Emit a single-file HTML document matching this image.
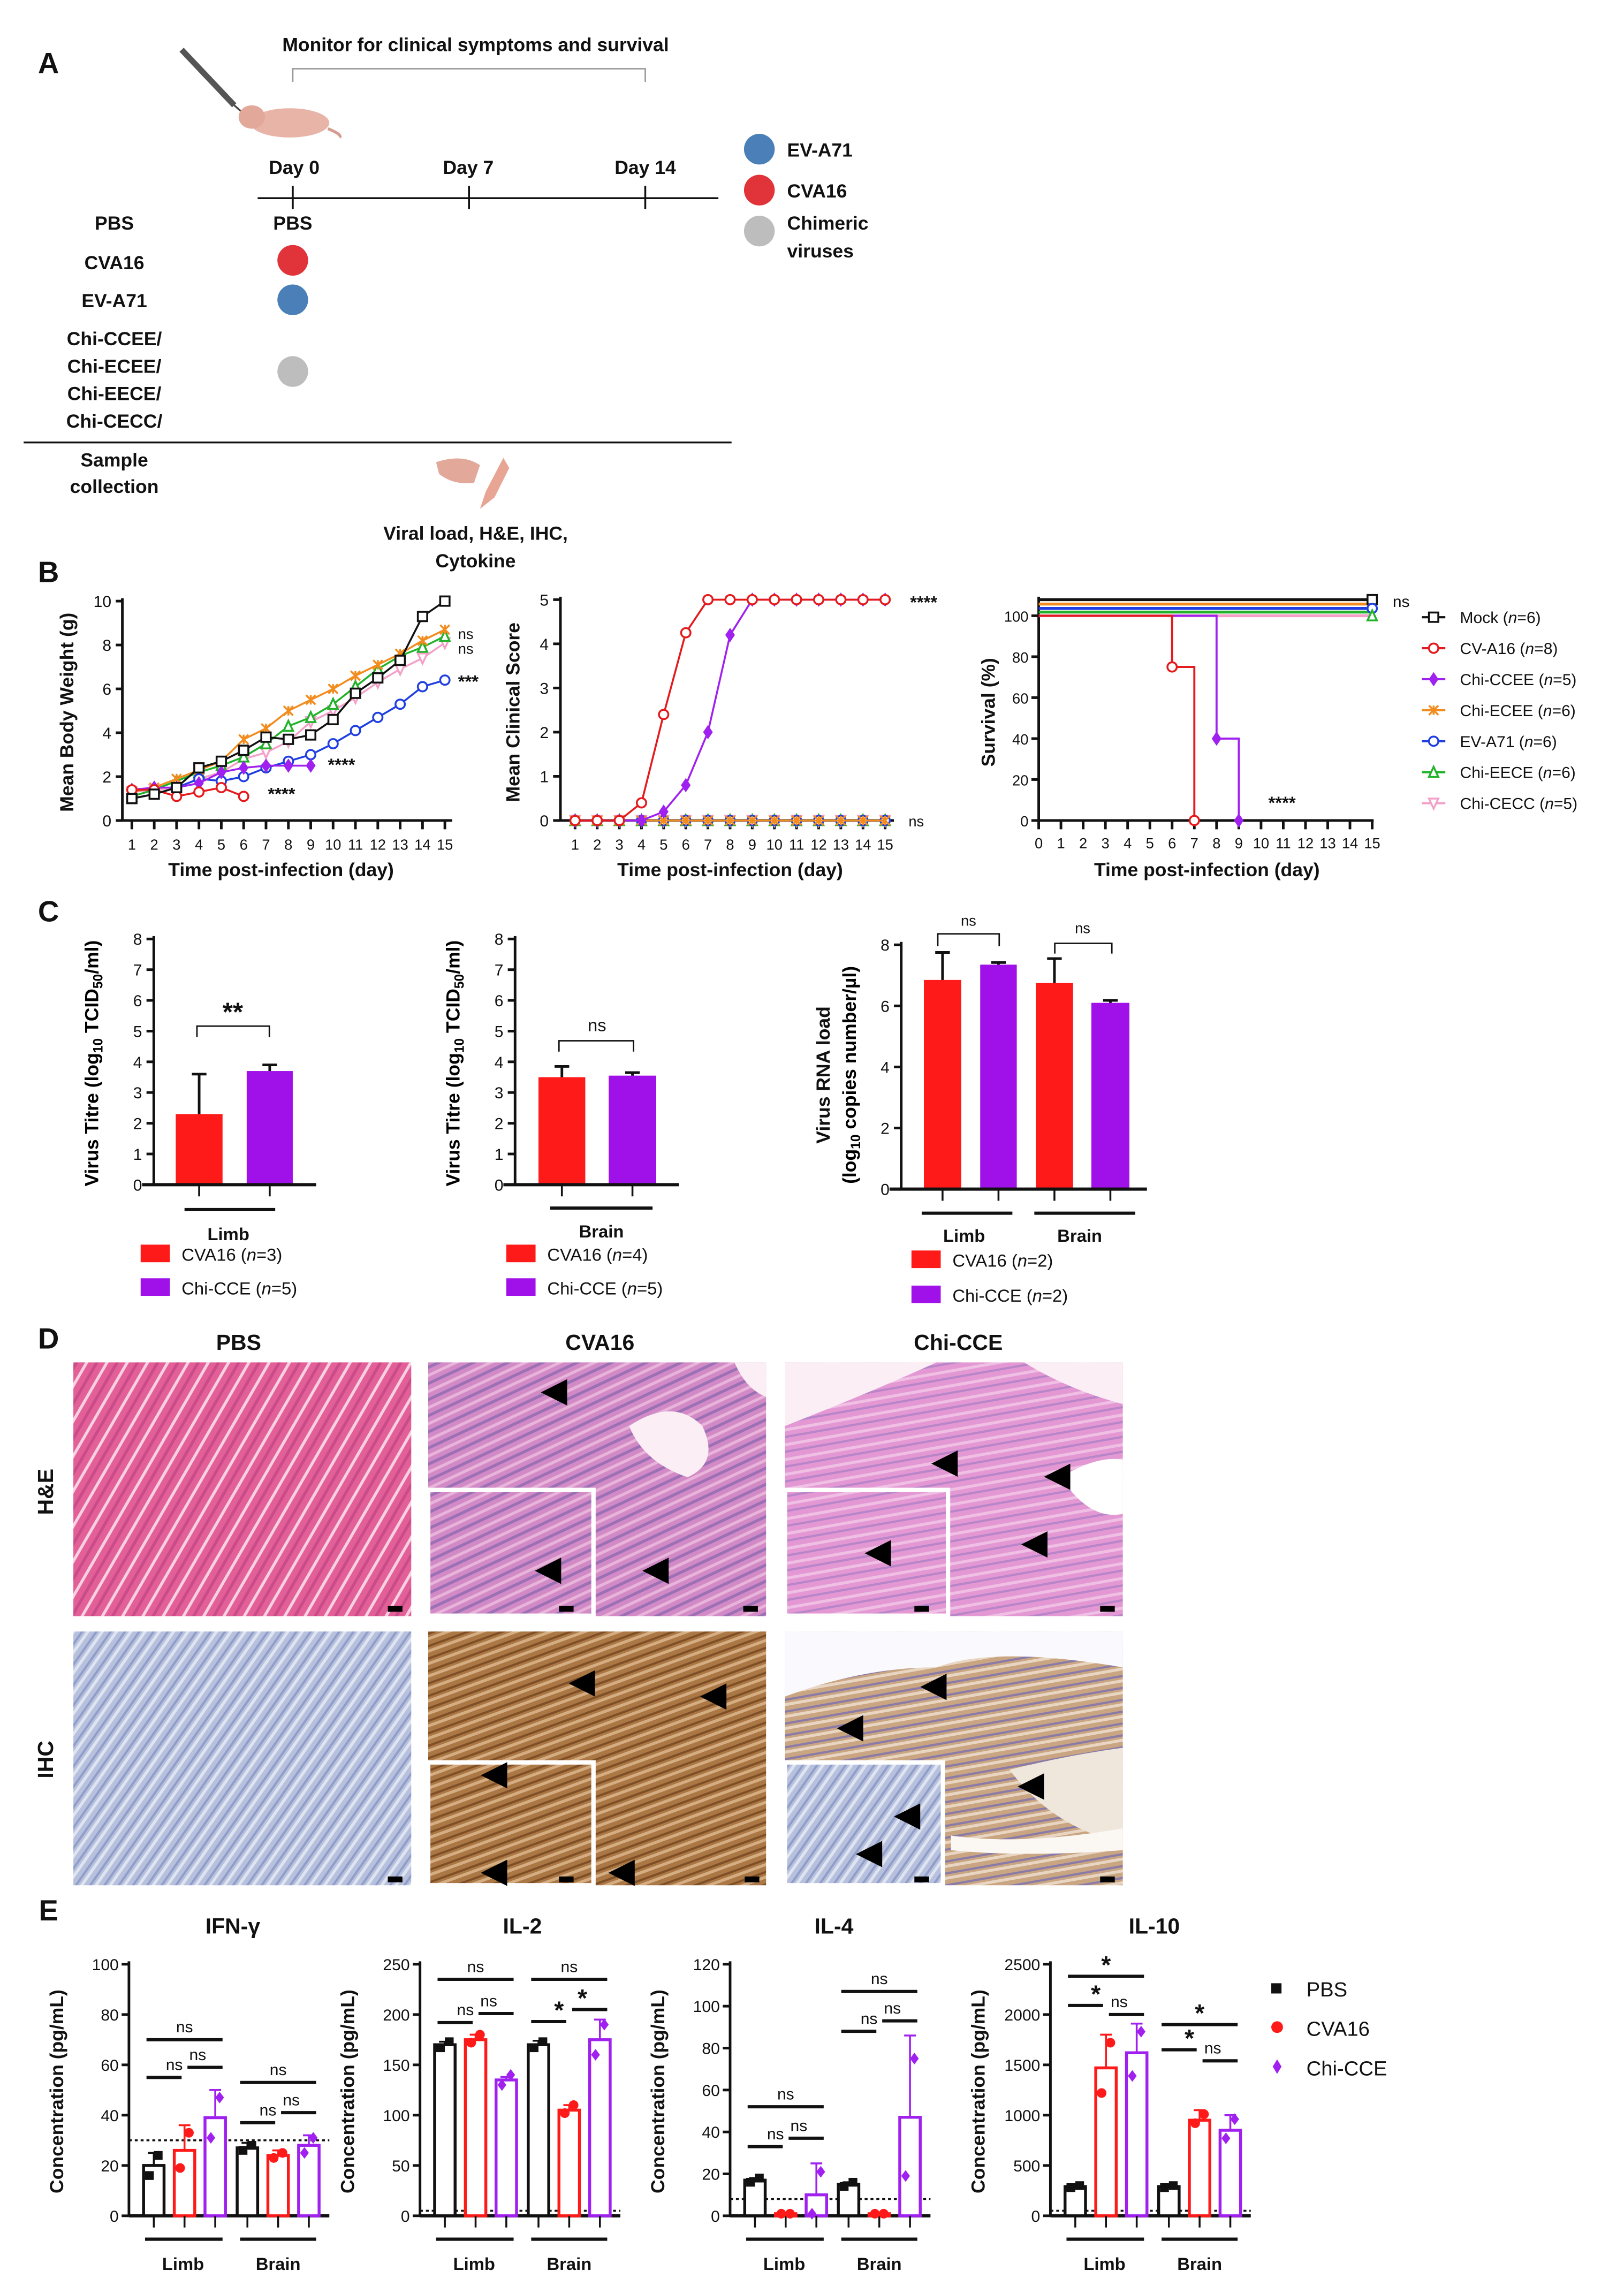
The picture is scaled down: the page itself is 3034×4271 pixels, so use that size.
<!DOCTYPE html>
<html><head><meta charset="utf-8"><style>
html,body{margin:0;padding:0;background:#fff;}
svg{display:block;font-family:"Liberation Sans",Arial,sans-serif;}
</style></head><body>
<svg id="fig" width="3034" height="4271" viewBox="0 0 1110 1563" xmlns="http://www.w3.org/2000/svg">
<defs>
<pattern id="he" width="30" height="12" patternUnits="userSpaceOnUse" patternTransform="rotate(-60)"><rect width="30" height="12" fill="#e35f98"/><rect y="0" width="30" height="2" fill="#f7d0e2"/><rect y="6" width="30" height="2" fill="#c94c88"/></pattern>
<pattern id="he2" width="30" height="10" patternUnits="userSpaceOnUse" patternTransform="rotate(-25)"><rect width="30" height="10" fill="#d28ac6"/><rect y="0" width="30" height="2" fill="#9c70b4"/><rect y="5" width="30" height="2" fill="#e8b4da"/></pattern>
<pattern id="he3" width="30" height="10" patternUnits="userSpaceOnUse" patternTransform="rotate(-10)"><rect width="30" height="10" fill="#e398d4"/><rect y="0" width="30" height="1.5" fill="#b785c8"/><rect y="5" width="30" height="2" fill="#f0c0e4"/></pattern>
<pattern id="ihc0" width="30" height="8" patternUnits="userSpaceOnUse" patternTransform="rotate(-55)"><rect width="30" height="8" fill="#b7c1de"/><rect y="0" width="30" height="2" fill="#dfe4f1"/><rect y="5" width="30" height="1.5" fill="#8f9dc8"/></pattern>
<pattern id="ihc1" width="30" height="8" patternUnits="userSpaceOnUse" patternTransform="rotate(-20)"><rect width="30" height="8" fill="#ab7744"/><rect y="0" width="30" height="2" fill="#d4ad82"/><rect y="5" width="30" height="1.5" fill="#7e4f26"/></pattern>
<pattern id="ihc2" width="30" height="8" patternUnits="userSpaceOnUse" patternTransform="rotate(-10)"><rect width="30" height="8" fill="#c9a582"/><rect y="0" width="30" height="2" fill="#e8d6c3"/><rect y="5" width="30" height="1.5" fill="#8a7aa8"/></pattern>
</defs>
<g id="root"></g>
</svg>
<script>
const NS="http://www.w3.org/2000/svg";
const root=document.getElementById('root');

// ---------- DATA ----------
const days=[1,2,3,4,5,6,7,8,9,10,11,12,13,14,15];
const bwMock=[1.0,1.2,1.5,2.4,2.7,3.2,3.8,3.7,3.9,4.6,5.8,6.5,7.3,9.3,10.0];
const bwCVA16=[1.4,1.4,1.1,1.3,1.5,1.1];
const bwCCEE=[1.4,1.5,1.5,1.7,2.2,2.4,2.5,2.5,2.5];
const bwECEE=[1.3,1.5,1.9,2.3,2.7,3.7,4.2,5.0,5.5,6.0,6.6,7.1,7.6,8.2,8.7];
const bwEVA71=[1.0,1.2,1.5,1.9,1.8,2.0,2.4,2.7,3.0,3.5,4.1,4.7,5.3,6.1,6.4];
const bwEECE=[1.1,1.4,1.8,2.2,2.5,2.9,3.5,4.3,4.7,5.3,6.1,6.9,7.5,7.9,8.4];
const bwCECC=[1.3,1.4,1.5,1.9,2.2,2.8,3.1,3.6,4.5,5.0,5.6,6.3,6.9,7.4,8.1];
const csCVA16=[0,0,0,0.4,2.4,4.25,5,5,5,5,5,5,5,5,5];
const csCCEE=[0,0,0,0,0.2,0.8,2,4.2,5,5,5,5,5,5,5];
const csOther=[0,0,0,0,0,0,0,0,0,0,0,0,0,0,0];
const survDaysCVA16=[0,6,6,7,7];
const survCVA16=[100,100,75,75,0];
const survDaysCCEE=[0,8,8,9,9];
const survCCEE=[100,100,40,40,0];
const legendNames=["Mock","CV-A16","Chi-CCEE","Chi-ECEE","EV-A71","Chi-EECE","Chi-CECC"];
const legendN=["6","8","5","6","6","6","5"];
const titreLimb=[2.3,3.7];
const titreLimbErr=[3.6,3.9];
const titreBrain=[3.5,3.55];
const titreBrainErr=[3.85,3.65];
const rnaVals=[6.85,7.35,6.75,6.1];
const rnaErr=[7.75,7.42,7.55,6.18];
const cytNames=["IFN-γ","IL-2","IL-4","IL-10"];
const cytMax=[100,250,120,2500];
const cytStep=[20,50,20,500];
const cytLOD=[30,5,8,50];
const cytMeans=[[20,26,39,27,24,28],[170,175,135,170,105,175],[17,1,10,15,1,47],[290,1470,1620,290,950,850]];
const cytErr=[[25,36,50,29,26,32],[173,180,138,174,110,195],[18,1,25,16,1,86],[300,1800,1910,310,1050,1000]];
const cytPts=[[[16,24],[19,33],[31,47],[26,28],[23,25],[25,31]],[[167,173],[172,180],[130,140],[167,173],[102,110],[160,190]],[[16,18],[1,1],[1,21],[14,16],[1,1],[19,75]],[[280,300],[1220,1720],[1390,1830],[280,300],[920,1010],[770,960]]];
const brIFN=[[0,2,70,'ns'],[0,1,55,'ns'],[1,2,59,'ns'],[3,5,53,'ns'],[3,4,37,'ns'],[4,5,41,'ns']];
const brIL2=[[0,2,235,'ns'],[0,1,192,'ns'],[1,2,201,'ns'],[3,5,235,'ns'],[3,4,193,'*'],[4,5,205,'*']];
const brIL4=[[0,2,52,'ns'],[0,1,33,'ns'],[1,2,37,'ns'],[3,5,107,'ns'],[3,4,88,'ns'],[4,5,93,'ns']];
const brIL10=[[0,2,2380,'*'],[0,1,2090,'*'],[1,2,2000,'ns'],[3,5,1900,'*'],[3,4,1650,'*'],[4,5,1540,'ns']];
const cytBrackets=[brIFN,brIL2,brIL4,brIL10];

// ---------- helpers ----------
function mk(tag,attrs,name,parent){
  const el=document.createElementNS(NS,tag);
  for(const k in attrs) el.setAttribute(k,attrs[k]);
  
  
  (parent||root).appendChild(el);
  return el;
}
function T(x,y,s,size,name,o){
  o=o||{};
  const a={x:x,y:y,'font-size':size,'font-weight':o.w||'bold','text-anchor':o.a||'middle',fill:o.fill||'#111'};
  if(o.rot) a.transform='rotate('+o.rot+' '+x+' '+y+')';
  const el=mk('text',a,name);
  el.textContent=s;
  return el;
}
function L(x1,y1,x2,y2,name,o){
  o=o||{};
  return mk('line',{x1:x1,y1:y1,x2:x2,y2:y2,stroke:o.c||'#111','stroke-width':o.w||1.8,'stroke-dasharray':o.d||'none'},name);
}
function marker(type,x,y,c,name){
  const r=3.2;
  if(type==='sq') mk('rect',{x:x-r,y:y-r,width:2*r,height:2*r,fill:'#fff',stroke:c,'stroke-width':1.3},name);
  else if(type==='ci') mk('circle',{cx:x,cy:y,r:r,fill:'#fff',stroke:c,'stroke-width':1.3},name);
  else if(type==='di') mk('polygon',{points:[x,y-r-0.8,x+r-0.5,y,x,y+r+0.8,x-r+0.5,y].join(','),fill:c,stroke:c,'stroke-width':1},name);
  else if(type==='x'){mk('path',{d:`M${x-r},${y-r}L${x+r},${y+r}M${x+r},${y-r}L${x-r},${y+r}M${x},${y-r}L${x},${y+r}`,stroke:c,'stroke-width':1.3},name);}
  else if(type==='tu') mk('polygon',{points:[x,y-r-0.5,x+r,y+r,x-r,y+r].join(','),fill:'#fff',stroke:c,'stroke-width':1.3},name);
  else if(type==='td') mk('polygon',{points:[x,y+r+0.5,x+r,y-r,x-r,y-r].join(','),fill:'#fff',stroke:c,'stroke-width':1.3},name);
}
function axisFns(x0,x1,xmin,xmax,y0,y1,ymin,ymax){
  return {sx:v=>x0+(v-xmin)/(xmax-xmin)*(x1-x0), sy:v=>y0-(v-ymin)/(ymax-ymin)*(y0-y1)};
}
function series(ax,xs,ys,c,mt,name){
  const pts=ys.map((v,i)=>ax.sx(xs[i])+','+ax.sy(v)).join(' ');
  mk('polyline',{points:pts,fill:'none',stroke:c,'stroke-width':1.3},name+'-line');
  ys.forEach((v,i)=>marker(mt,ax.sx(xs[i]),ax.sy(v),c,name+'-point'));
}
const COL={Mock:'#111',CVA16:'#e41a1c',CCEE:'#a020f0',ECEE:'#f28c1e',EVA71:'#1f3fe0',EECE:'#22b22a',CECC:'#f4a0c8'};

// ---------- PANEL A ----------
T(33,50,'A',20,'panel-label-a');
T(325,35,'Monitor for clinical symptoms and survival',13,'monitor-title');
mk('path',{d:'M200,56 L200,47 L441,47 L441,56',fill:'none',stroke:'#999','stroke-width':1},'monitor-bracket');
mk('path',{d:'M124,34 L160,72',stroke:'#555','stroke-width':4,fill:'none'},'syringe-icon');
mk('path',{d:'M160,72 L169,80',stroke:'#444','stroke-width':1.2},'syringe-needle');
mk('ellipse',{cx:198,cy:84,rx:27,ry:10,fill:'#e8b4a8'},'mouse-icon');
mk('ellipse',{cx:172,cy:80,rx:9,ry:8,fill:'#e2a89a'},'mouse-head');
mk('path',{d:'M224,88 Q234,92 232,94',stroke:'#d79c90','stroke-width':2,fill:'none'},'mouse-tail');
T(201,119,'Day 0',13,'day-0-label');
T(320,119,'Day 7',13,'day-7-label');
T(441,119,'Day 14',13,'day-14-label');
L(176,135.5,491,135.5,'timeline-axis',{w:1.3});
[200,320.5,441].forEach(x=>L(x,127,x,143,'timeline-tick',{w:1.3}));
T(78,157,'PBS',13,'group-pbs');
T(78,184,'CVA16',13,'group-cva16');
T(78,210,'EV-A71',13,'group-eva71');
['Chi-CCEE/','Chi-ECEE/','Chi-EECE/','Chi-CECC/'].forEach((s,i)=>T(78,236+i*18.8,s,13,'group-chimeric'));
T(200,157,'PBS',13,'pbs-injection');
mk('circle',{cx:200,cy:178,r:10.5,fill:'#e0333a'},'cva16-dot');
mk('circle',{cx:200,cy:205,r:10.5,fill:'#4a7fb8'},'eva71-dot');
mk('circle',{cx:200,cy:254,r:10.5,fill:'#bdbdbd'},'chimeric-dot');
mk('circle',{cx:519,cy:102,r:10.5,fill:'#4a7fb8'},'legend-eva71-dot');
T(538,107,'EV-A71',13,'legend-eva71',{a:'start'});
mk('circle',{cx:519,cy:130,r:10.5,fill:'#e0333a'},'legend-cva16-dot');
T(538,135,'CVA16',13,'legend-cva16',{a:'start'});
mk('circle',{cx:519,cy:158,r:10.5,fill:'#bdbdbd'},'legend-chimeric-dot');
T(538,157,'Chimeric',13,'legend-chimeric',{a:'start'});
T(538,176,'viruses',13,'legend-chimeric-2',{a:'start'});
L(16,302.5,500,302.5,'sample-divider',{w:1.3});
T(78,319,'Sample',13,'sample-collection-1');
T(78,337,'collection',13,'sample-collection-2');
mk('path',{d:'M298,316 Q316,310 328,318 L324,330 Q310,332 300,324 Z',fill:'#e2a89a'},'tissue-brain-icon');
mk('path',{d:'M344,313 L348,320 L338,340 L328,348 L332,336 Z',fill:'#e8a594'},'tissue-limb-icon');
T(325,369,'Viral load, H&E, IHC,',13,'readouts-1');
T(325,388,'Cytokine',13,'readouts-2');

// ---------- PANEL B ----------
T(33,398,'B',20,'panel-label-b');
(function(){
  const ax=axisFns(90,304,1,15,561,411,0,10);
  L(83.5,409,83.5,561,'bw-y-axis');L(80,561,309,561,'bw-x-axis');
  [0,2,4,6,8,10].forEach(v=>{L(79,ax.sy(v),83.5,ax.sy(v),'bw-y-tick');T(76,ax.sy(v)+4,String(v),11,'bw-y-label',{a:'end',w:'normal'});});
  days.forEach(d=>{L(ax.sx(d),561,ax.sx(d),567,'bw-x-tick');T(ax.sx(d),581,String(d),10,'bw-x-label',{w:'normal'});});
  T(192,599,'Time post-infection (day)',13,'bw-x-title');
  T(50,487,'Mean Body Weight (g)',13,'bw-y-title',{rot:-90});
  series(ax,days,bwCECC,COL.CECC,'td','bw-chi-cecc');
  series(ax,days,bwEECE,COL.EECE,'tu','bw-chi-eece');
  series(ax,days,bwECEE,COL.ECEE,'x','bw-chi-ecee');
  series(ax,days,bwEVA71,COL.EVA71,'ci','bw-eva71');
  series(ax,days,bwCCEE,COL.CCEE,'di','bw-chi-ccee');
  series(ax,days,bwCVA16,COL.CVA16,'ci','bw-cva16');
  series(ax,days,bwMock,COL.Mock,'sq','bw-mock');
  T(313,437,'ns',10,'bw-ns-1',{a:'start',w:'normal'});T(313,447,'ns',10,'bw-ns-2',{a:'start',w:'normal'});
  T(313,470,'***',12,'bw-sig-eva71',{a:'start'});
  T(224,527,'****',12,'bw-sig-ccee',{a:'start'});
  T(183,547,'****',12,'bw-sig-cva16',{a:'start'});
})();
(function(){
  const ax=axisFns(393,605,1,15,561,410,0,5);
  L(383,408,383,561,'cs-y-axis');L(380,561,611,561,'cs-x-axis');
  [0,1,2,3,4,5].forEach(v=>{L(378,ax.sy(v),383,ax.sy(v),'cs-y-tick');T(375,ax.sy(v)+4,String(v),11,'cs-y-label',{a:'end',w:'normal'});});
  days.forEach(d=>{L(ax.sx(d),561,ax.sx(d),567,'cs-x-tick');T(ax.sx(d),581,String(d),10,'cs-x-label',{w:'normal'});});
  T(499,599,'Time post-infection (day)',13,'cs-x-title');
  T(355,487,'Mean Clinical Score',13,'cs-y-title',{rot:-90});
  series(ax,days,csOther,COL.CECC,'td','cs-chi-cecc');
  series(ax,days,csOther,COL.EECE,'tu','cs-chi-eece');
  series(ax,days,csOther,COL.EVA71,'ci','cs-eva71');
  series(ax,days,csOther,COL.ECEE,'x','cs-chi-ecee');
  series(ax,days,csCCEE,COL.CCEE,'di','cs-chi-ccee');
  series(ax,days,csCVA16,COL.CVA16,'ci','cs-cva16');
  T(622,416,'****',12,'cs-sig',{a:'start'});
  T(621,565,'ns',10,'cs-ns',{a:'start',w:'normal'});
})();
(function(){
  const ax=axisFns(710,938,0,15,561,421,0,100);
  L(710,408,710,561,'surv-y-axis');L(710,561,939,561,'surv-x-axis');
  [0,20,40,60,80,100].forEach(v=>{L(705,ax.sy(v),710,ax.sy(v),'surv-y-tick');T(703,ax.sy(v)+4,String(v),10,'surv-y-label',{a:'end',w:'normal'});});
  for(let d=0;d<=15;d++){L(ax.sx(d),561,ax.sx(d),567,'surv-x-tick');T(ax.sx(d),580,String(d),10,'surv-x-label',{w:'normal'});}
  T(825,599,'Time post-infection (day)',13,'surv-x-title');
  T(680,487,'Survival (%)',13,'surv-y-title',{rot:-90});
  const tops=[['Mock',COL.Mock,-11],['ECEE',COL.ECEE,-8],['EVA71',COL.EVA71,-5],['EECE',COL.EECE,-2.5],['CECC',COL.CECC,0]];
  tops.forEach(t=>{mk('line',{x1:710,y1:ax.sy(100)+t[2],x2:ax.sx(15),y2:ax.sy(100)+t[2],stroke:t[1],'stroke-width':2},'surv-'+t[0]+'-line');});
  marker('sq',ax.sx(15),ax.sy(100)-11,COL.Mock,'surv-mock-end');
  marker('ci',ax.sx(15),ax.sy(100)-5,COL.EVA71,'surv-eva71-end');
  marker('tu',ax.sx(15),ax.sy(100),COL.EECE,'surv-eece-end');
  const st=(xs,ys,c,m,n)=>{mk('polyline',{points:ys.map((v,i)=>ax.sx(xs[i])+','+ax.sy(v)).join(' '),fill:'none',stroke:c,'stroke-width':1.4},n+'-line');
    marker(m,ax.sx(xs[2]),ax.sy(ys[2]),c,n+'-point');marker(m,ax.sx(xs[4]),ax.sy(ys[4]),c,n+'-point');};
  st(survDaysCCEE,survCCEE,COL.CCEE,'di','surv-chi-ccee');
  st(survDaysCVA16,survCVA16,COL.CVA16,'ci','surv-cva16');
  T(952,415,'ns',11,'surv-ns',{a:'start',w:'normal'});
  T(867,553,'****',12,'surv-sig',{a:'start'});
  const lc=[COL.Mock,COL.CVA16,COL.CCEE,COL.ECEE,COL.EVA71,COL.EECE,COL.CECC];
  const lm=['sq','ci','di','x','ci','tu','td'];
  legendNames.forEach((n,i)=>{const y=422+i*21.2;
    mk('line',{x1:972,y1:y,x2:988,y2:y,stroke:lc[i],'stroke-width':1.5},'surv-legend-line');
    marker(lm[i],980,y,lc[i],'surv-legend-marker');
    const t=mk('text',{x:998,y:y+4,'font-size':11,fill:'#111'},'surv-legend-entry');
    t.innerHTML=n+' (<tspan font-style="italic">n</tspan>='+legendN[i]+')';
  });
})();

// ---------- PANEL C ----------
T(33,630,'C',20,'panel-label-c');
function errBar(x,yTop,yBase,name){L(x,yTop,x,yBase,name);L(x-5,yTop,x+5,yTop,name+'-cap');}
function titrePlot(axX,xEnd,xs,vals,errs,stepv,y0,y1,ptag){
  const ax=axisFns(0,1,0,1,y0,y1,0,8);
  L(axX,y1-2,axX,y0,ptag+'-y-axis');
  for(let v=0;v<=8;v+=stepv){L(axX-5,ax.sy(v),axX,ax.sy(v),ptag+'-y-tick');T(axX-8,ax.sy(v)+4,String(v),11,ptag+'-y-label',{a:'end',w:'normal'});}
  const cols=['#ff1a1a','#a010e8','#ff1a1a','#a010e8'];
  vals.forEach((v,i)=>{mk('rect',{x:xs[i][0],y:ax.sy(v),width:xs[i][1]-xs[i][0],height:y0-ax.sy(v),fill:cols[i]},ptag+'-bar');
    const cx=(xs[i][0]+xs[i][1])/2;
    errBar(cx,ax.sy(errs[i]),ax.sy(v),ptag+'-error-bar');
    L(cx,y0,cx,y0+8,ptag+'-x-tick',{w:1.3});});
  L(axX-8,y0,xEnd,y0,ptag+'-x-axis',{w:2.2});
  return ax;
}
function ytTitre(x,y,name){
  const yt=mk('text',{x:x,y:y,'font-size':13,'font-weight':'bold','text-anchor':'middle',transform:'rotate(-90 '+x+' '+y+')'},name);
  yt.innerHTML='Virus Titre (log<tspan font-size="9" dy="3">10</tspan><tspan dy="-3"> TCID</tspan><tspan font-size="9" dy="3">50</tspan><tspan dy="-3">/ml)</tspan>';
}
function legRow(x,y,col,label,n,name){
  mk('rect',{x:x,y:y-10,width:20,height:12,fill:col},name+'-swatch');
  const t=mk('text',{x:x+28,y:y+1,'font-size':12,fill:'#111'},name);t.innerHTML=label+' (<tspan font-style="italic">n</tspan>='+n+')';
}
(function(){
  titrePlot(105,216,[[120,152],[168.5,200]],titreLimb,titreLimbErr,1,810,642,'titre-limb');
  mk('path',{d:'M134.5,709 L134.5,701.6 L184,701.6 L184,709',fill:'none',stroke:'#111','stroke-width':1},'titre-limb-bracket');
  T(159,698,'**',18,'titre-limb-sig');
  L(126,827,188,827,'titre-limb-group-line',{w:2.2});T(156,848,'Limb',12,'titre-limb-group');
  ytTitre(67,727,'titre-limb-y-title');
  legRow(96,861,'#ff1a1a','CVA16','3','titre-limb-legend-cva16');
  legRow(96,884,'#a010e8','Chi-CCE','5','titre-limb-legend-chicce');
})();
(function(){
  titrePlot(352,464,[[368,400],[416,448.5]],titreBrain,titreBrainErr,1,810,642,'titre-brain');
  mk('path',{d:'M382,719 L382,711.6 L433,711.6 L433,719',fill:'none',stroke:'#111','stroke-width':1},'titre-brain-bracket');
  T(408,705,'ns',12,'titre-brain-ns',{w:'normal'});
  L(376,826,446,826,'titre-brain-group-line',{w:2.2});T(411,846,'Brain',12,'titre-brain-group');
  ytTitre(314,727,'titre-brain-y-title');
  legRow(346,861,'#ff1a1a','CVA16','4','titre-brain-legend-cva16');
  legRow(346,884,'#a010e8','Chi-CCE','5','titre-brain-legend-chicce');
})();
(function(){
  titrePlot(616,784,[[631.5,657],[670,695],[708,733.5],[746,772]],rnaVals,rnaErr,2,813,646,'rna');
  mk('path',{d:'M641,647 L641,638.5 L683,638.5 L683,647',fill:'none',stroke:'#111','stroke-width':1},'rna-limb-bracket');
  T(662,633,'ns',10,'rna-limb-ns',{w:'normal'});
  mk('path',{d:'M721,652 L721,645 L760,645 L760,652',fill:'none',stroke:'#111','stroke-width':1},'rna-brain-bracket');
  T(740,638,'ns',10,'rna-brain-ns',{w:'normal'});
  L(630,829.5,692,829.5,'rna-limb-line',{w:2.2});T(659,849,'Limb',12,'rna-limb-group');
  L(707,829.5,776,829.5,'rna-brain-line',{w:2.2});T(738,849,'Brain',12,'rna-brain-group');
  T(567,735,'Virus RNA load',13,'rna-y-title-1',{rot:-90});
  const yt=mk('text',{x:585,y:735,'font-size':13,'font-weight':'bold','text-anchor':'middle',transform:'rotate(-90 585 735)'},'rna-y-title-2');
  yt.innerHTML='(log<tspan font-size="9" dy="3">10</tspan><tspan dy="-3"> copies number/µl)</tspan>';
  legRow(623,865,'#ff1a1a','CVA16','2','rna-legend-cva16');
  legRow(623,889,'#a010e8','Chi-CCE','2','rna-legend-chicce');
})();

// ---------- PANEL D ----------
T(33,922,'D',20,'panel-label-d');
T(163,923,'PBS',15,'col-pbs');T(410,923,'CVA16',15,'col-cva16');T(655,923,'Chi-CCE',15,'col-chicce');
T(36,1020,'H&E',15,'row-he',{rot:-90});T(36,1203,'IHC',15,'row-ihc',{rot:-90});
const imgs=[[50,931.5,'he','he-pbs'],[292.6,931.5,'he2','he-cva16'],[536.5,931.5,'he3','he-chicce'],[50,1115.5,'ihc0','ihc-pbs'],[292.6,1115.5,'ihc1','ihc-cva16'],[536.5,1115.5,'ihc2','ihc-chicce']];
imgs.forEach(m=>mk('rect',{x:m[0],y:m[1],width:231,height:173.5,fill:'url(#'+m[2]+')'},m[3]+'-image'));
mk('path',{d:'M430,975 Q460,955 480,975 Q492,1000 470,1010 Q440,1000 430,975 Z',fill:'#fbeef5'},'he-cva16-clear');
mk('path',{d:'M502,931.5 L523.6,931.5 L523.6,955 Q510,950 502,931.5 Z',fill:'#fbeef5'},'he-cva16-edge');
mk('path',{d:'M536.5,931.5 L640,931.5 Q600,950 536.5,975 Z',fill:'#fbeef5'},'he-chicce-clear-1');
mk('path',{d:'M700,931.5 L767.5,931.5 L767.5,960 Q730,950 700,931.5 Z',fill:'#fbeef5'},'he-chicce-clear-2');
mk('path',{d:'M725,1010 Q750,995 767.5,998 L767.5,1035 Q745,1040 725,1010 Z',fill:'#fff'},'he-chicce-clear-3');
mk('path',{d:'M536.5,1115.5 L767.5,1115.5 L767.5,1140 Q680,1125 640,1140 Q590,1140 536.5,1160 Z',fill:'#fafafe'},'ihc-chicce-edge');
mk('path',{d:'M690,1210 Q730,1200 767.5,1195 L767.5,1260 Q720,1250 690,1210 Z',fill:'#efe6dc'},'ihc-chicce-clear');
mk('path',{d:'M650,1255 Q700,1262 767.5,1250 L767.5,1265 Q700,1270 650,1265 Z',fill:'#fbf7f2'},'ihc-chicce-clear-2');
const insets=[[292.6,1018.7,113,86,'he2'],[536.5,1018.7,111.5,86,'he3'],[292.6,1205,113,84,'ihc1'],[536.5,1205,108,84,'ihc0']];
insets.forEach((r,i)=>{mk('rect',{x:r[0],y:r[1],width:r[2],height:r[3],fill:'url(#'+r[4]+')',stroke:'#fff','stroke-width':3},'inset-'+i);});
const arrows=[[369.6,952],[365.5,1074],[439,1074],[636.6,1000.7],[713.6,1009.7],[698,1056],[591,1062],[388.6,1151],[478.5,1160],[328.6,1213.8],[328.6,1280.5],[415.8,1280.5],[629,1153.4],[572,1181.7],[695.6,1221.5],[611,1242],[585,1267.7]];
arrows.forEach(a=>mk('polygon',{points:[a[0],a[1],a[0]+18,a[1]-9,a[0]+18,a[1]+9].join(','),fill:'#000'},'arrowhead'));
[[265,1098],[508,1098],[752,1098],[265,1283],[509,1283],[752,1283],[382,1098],[625,1098],[382,1283],[625,1283]].forEach(s=>mk('rect',{x:s[0],y:s[1],width:10,height:4,fill:'#000'},'scale-bar'));

// ---------- PANEL E ----------
T(33,1313,'E',20,'panel-label-e');
const cytAx=[88,287,499,718];
const cytTitleX=[159,357,570,789];
const cytBarOff=[17,38,59,81,102,123];
const barCols=['#111','#ff1a1a','#a020f0','#111','#ff1a1a','#a020f0'];
const EY0=1515, EY1=1343;
cytNames.forEach((nm,p)=>{
  const ax0=cytAx[p], ax=axisFns(0,1,0,1,EY0,EY1,0,cytMax[p]);
  const cxOf=i=>ax0+cytBarOff[i];
  T(cytTitleX[p],1322,nm,15,'cyt-title-'+p);
  L(ax0,EY1-2,ax0,EY0,'cyt-y-axis');
  for(let v=0;v<=cytMax[p];v+=cytStep[p]){L(ax0-5,ax.sy(v),ax0,ax.sy(v),'cyt-y-tick');T(ax0-7,ax.sy(v)+4,String(v),11,'cyt-y-label',{a:'end',w:'normal'});}
  const xAxEnd=ax0+137;
  L(ax0,EY0,xAxEnd,EY0,'cyt-x-axis',{w:2.2});
  L(ax0,ax.sy(cytLOD[p]),xAxEnd,ax.sy(cytLOD[p]),'cyt-lod-line',{d:'2,2',w:1.3});
  cytMeans[p].forEach((v,i)=>{
    const cx=cxOf(i), bx=cx-7;
    mk('rect',{x:bx,y:ax.sy(v),width:14,height:EY0-ax.sy(v),fill:'#fff',stroke:barCols[i],'stroke-width':2},'cyt-bar');
    L(cx,EY0,cx,EY0+8,'cyt-x-tick',{w:1.3});
    L(cx,ax.sy(cytErr[p][i]),cx,ax.sy(v),'cyt-error-bar',{c:barCols[i],w:1.3});
    L(cx-4,ax.sy(cytErr[p][i]),cx+4,ax.sy(cytErr[p][i]),'cyt-error-cap',{c:barCols[i],w:1.3});
    cytPts[p][i].forEach((pv,k)=>{
      const px=cx+(k?3:-3), py=ax.sy(pv);
      if(i%3===0) mk('rect',{x:px-3,y:py-3,width:6,height:6,fill:'#111'},'cyt-point');
      else if(i%3===1) mk('circle',{cx:px,cy:py,r:3.3,fill:'#ff1a1a'},'cyt-point');
      else mk('polygon',{points:[px,py-4,px+3,py,px,py+4,px-3,py].join(','),fill:'#a020f0'},'cyt-point');
    });
  });
  cytBrackets[p].forEach((b,k)=>{
    const full=(b[1]-b[0])===2;
    let x1,x2;
    if(full){x1=cxOf(b[0])-5;x2=cxOf(b[1])+5;}
    else if(b[0]%3===0){x1=cxOf(b[0])-5;x2=cxOf(b[1])-2;}
    else {x1=cxOf(b[0])+2;x2=cxOf(b[1])+5;}
    const y=ax.sy(b[2]);
    L(x1,y,x2,y,'cyt-bracket-line',{w:2.2});
    const star=b[3]==='*';
    const lx=full?(x1+x2)/2:(b[0]%3===0?x2-5:x1+7);
    T(lx,star?y-2:y-5,b[3],star?17:11,'cyt-bracket-label',{w:star?'bold':'normal'});
  });
  L(ax0+11,1531,ax0+64,1531,'cyt-limb-line',{w:2.2});T(ax0+37,1552,'Limb',12,'cyt-limb-label');
  L(ax0+76,1531,ax0+128,1531,'cyt-brain-line',{w:2.2});T(ax0+102,1552,'Brain',12,'cyt-brain-label');
  T(ax0-45,1430,'Concentration (pg/mL)',13,'cyt-y-title',{rot:-90});
});
mk('rect',{x:869,y:1356,width:7,height:7,fill:'#111'},'cyt-legend-pbs-marker');T(893,1365,'PBS',14,'cyt-legend-pbs',{a:'start',w:'normal'});
mk('circle',{cx:873,cy:1386,r:4,fill:'#ff1a1a'},'cyt-legend-cva16-marker');T(893,1392,'CVA16',14,'cyt-legend-cva16',{a:'start',w:'normal'});
mk('polygon',{points:'873,1408 876,1413 873,1418 870,1413',fill:'#a020f0'},'cyt-legend-chicce-marker');T(893,1419,'Chi-CCE',14,'cyt-legend-chicce',{a:'start',w:'normal'});
</script>
</body></html>
